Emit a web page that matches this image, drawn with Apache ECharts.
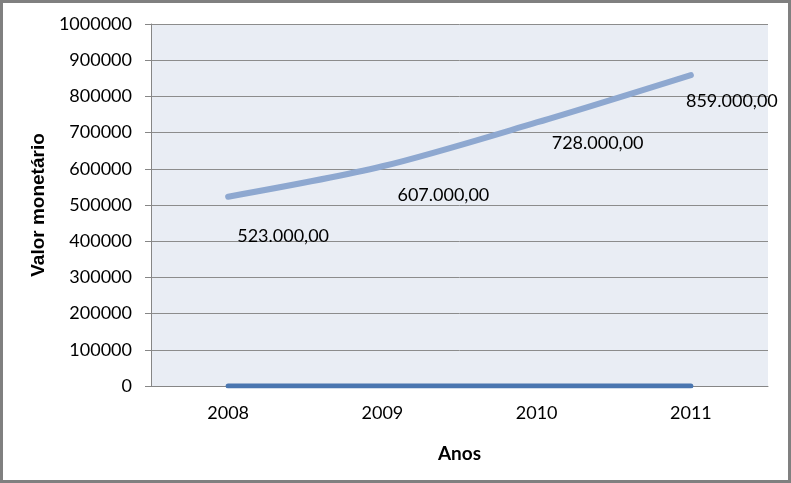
<!DOCTYPE html>
<html><head><meta charset="utf-8">
<script src="https://cdn.jsdelivr.net/npm/echarts@6/dist/echarts.min.js"></script>
<style>html,body{margin:0;padding:0;background:#fff}#c{width:791px;height:483px}</style>
</head><body><div id="c"></div>
<script>
const categories = ['2008', '2009', '2010', '2011'];
const valores = [523000, 607000, 728000, 859000];
const base = [0, 0, 0, 0];
const labelTexts = ['523.000,00', '607.000,00', '728.000,00', '859.000,00'];
const yTicks = [0, 100000, 200000, 300000, 400000, 500000, 600000, 700000, 800000, 900000, 1000000];

const offs = [[55, 40], [61, 29], [61, 21], [41, 26]];
const chart = echarts.init(document.getElementById('c'));
chart.setOption({
  animation: false,
  textStyle: { fontFamily: 'Lato' },
  graphic: [{ type: 'rect', shape: { x: 1.5, y: 1.5, width: 788, height: 480 }, style: { fill: 'none', stroke: '#808080', lineWidth: 3 }, z: 100 }],
  grid: { left: 151, right: 23, top: 24, bottom: 97, show: true, backgroundColor: '#E9EDF4', borderWidth: 0 },
  xAxis: {
    type: 'category', data: categories, boundaryGap: true,
    name: 'Anos', nameLocation: 'middle', nameGap: 58,
    nameTextStyle: { fontWeight: 'bold', fontSize: 19, color: '#000' },
    axisLine: { lineStyle: { color: '#868686', width: 1 } },
    axisTick: { show: false },
    axisLabel: { fontSize: 18, color: '#000', margin: 18 }
  },
  yAxis: {
    type: 'value', min: 0, max: 1000000, interval: 100000,
    name: 'Valor monetário', nameLocation: 'middle', nameGap: 103, nameRotate: 90,
    nameTextStyle: { fontWeight: 'bold', fontSize: 19, color: '#000', fontFamily: 'Liberation Sans' },
    axisLine: { show: true, lineStyle: { color: '#868686', width: 1 } },
    axisTick: { show: true, inside: false, length: 6, lineStyle: { color: '#868686' } },
    axisLabel: { fontSize: 18, color: '#000', margin: 19, formatter: v => yTicks.includes(v) ? String(v) : '' },
    splitLine: { show: true, lineStyle: { color: '#8C8C8C', width: 1 } }
  },
  series: [
    {
      type: 'line', data: base, symbol: 'none', z: 3,
      lineStyle: { color: '#4A76B0', width: 5, cap: 'round' }
    },
    {
      type: 'line', smooth: 0.3, symbol: 'circle', symbolSize: 1, showSymbol: true, z: 4,
      itemStyle: { color: 'rgba(0,0,0,0)' },
      lineStyle: { color: '#8EA8D0', width: 6, cap: 'round' },
      data: valores.map((v, i) => ({
        value: v,
        label: { show: true, position: 'inside', offset: offs[i], formatter: labelTexts[i], fontSize: 18, color: '#000', fontFamily: 'Lato' }
      }))
    }
  ]
});
</script></body></html>
